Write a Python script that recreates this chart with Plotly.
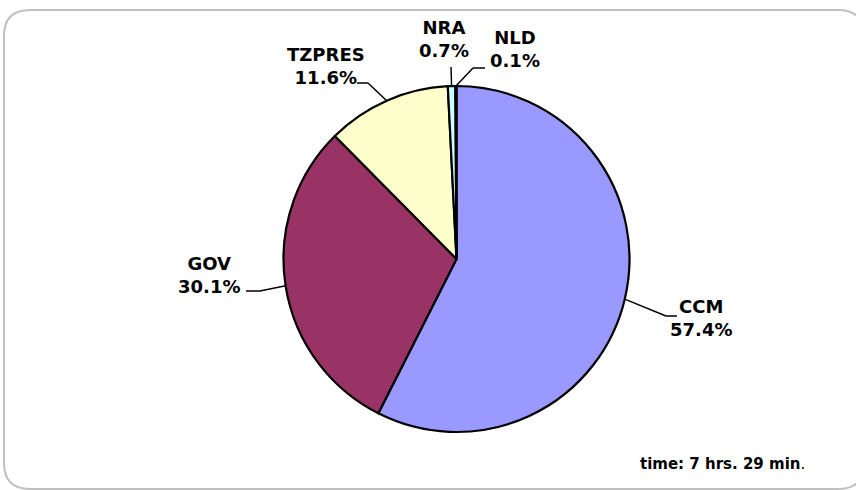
import math
import plotly.graph_objects as go

# ---- data ----
labels = ["CCM", "GOV", "TZPRES", "NRA", "NLD"]
values = [57.4, 30.1, 11.6, 0.7, 0.1]
pct_text = ["57.4%", "30.1%", "11.6%", "0.7%", "0.1%"]
colors = ["#9999FF", "#993366", "#FFFFCC", "#CCFFFF", "#660066"]
footer = "time: 7 hrs. 29 min"

# ---- layout constants (pixels) ----
W, H = 856, 490
CX, CY, R = 456.5, 259.0, 173.0
# leader line elbow / end points and label centres
elbows = [(666, 316), (260, 291), (368, 83), (451, 67), (473, 68)]
ends = [(677, 316), (246, 291), (357, 83), (451, 67), (485, 68)]
label_pos = [(701, 318), (209, 275), (326, 66), (444, 39), (515, 49)]

def px(x):
    return x / W

def py(y):
    return 1 - y / H

fig = go.Figure(go.Pie(
    labels=labels, values=values, sort=False, direction="clockwise",
    rotation=0, textinfo="none", hoverinfo="label+percent",
    marker=dict(colors=colors, line=dict(color="black", width=2.2)),
    domain=dict(x=[px(CX - R), px(CX + R)], y=[py(CY + R), py(CY - R)]),
    showlegend=False,
))

shapes = []
annotations = []
total = sum(values)
cum = 0.0
for i, v in enumerate(values):
    th = 2 * math.pi * (cum + v / 2) / total
    cum += v
    ex = CX + R * math.sin(th)
    ey = CY - R * math.cos(th)
    (bx, by), (dx, dy) = elbows[i], ends[i]
    for (x0, y0, x1, y1) in [(ex, ey, bx, by), (bx, by, dx, dy)]:
        if abs(x0 - x1) < 0.01 and abs(y0 - y1) < 0.01:
            continue
        shapes.append(dict(type="line", xref="paper", yref="paper",
                           x0=px(x0), y0=py(y0), x1=px(x1), y1=py(y1),
                           line=dict(color="black", width=1.5)))
    lx, ly = label_pos[i]
    annotations.append(dict(
        xref="paper", yref="paper", x=px(lx), y=py(ly),
        xanchor="center", yanchor="middle", align="center", showarrow=False,
        text=f"<b>{labels[i]}<br>{pct_text[i]}</b>",
        font=dict(family="DejaVu Sans", size=18, color="black"),
    ))

annotations.append(dict(
    xref="paper", yref="paper", x=px(722), y=py(464),
    xanchor="center", yanchor="middle", showarrow=False,
    text=f"<b>{footer}</b>.",
    font=dict(family="DejaVu Sans", size=15, color="black"),
))

# rounded frame
L, T, Rt, B, rad = 4, 10, 864, 489, 26
pts = (f"M {px(L+rad)},{py(T)} L {px(Rt-rad)},{py(T)} Q {px(Rt)},{py(T)} {px(Rt)},{py(T+rad)} "
       f"L {px(Rt)},{py(B-rad)} Q {px(Rt)},{py(B)} {px(Rt-rad)},{py(B)} "
       f"L {px(L+rad)},{py(B)} Q {px(L)},{py(B)} {px(L)},{py(B-rad)} "
       f"L {px(L)},{py(T+rad)} Q {px(L)},{py(T)} {px(L+rad)},{py(T)} Z")
shapes.append(dict(type="path", xref="paper", yref="paper", path=pts,
                   line=dict(color="#C0C0C0", width=2), layer="below"))

fig.update_layout(
    width=W, height=H, margin=dict(l=0, r=0, t=0, b=0),
    paper_bgcolor="white", plot_bgcolor="white",
    shapes=shapes, annotations=annotations,
)
fig.write_html("out.html", config={"displayModeBar": False},
               post_script="document.body.style.margin='0';document.body.style.overflow='hidden';")
